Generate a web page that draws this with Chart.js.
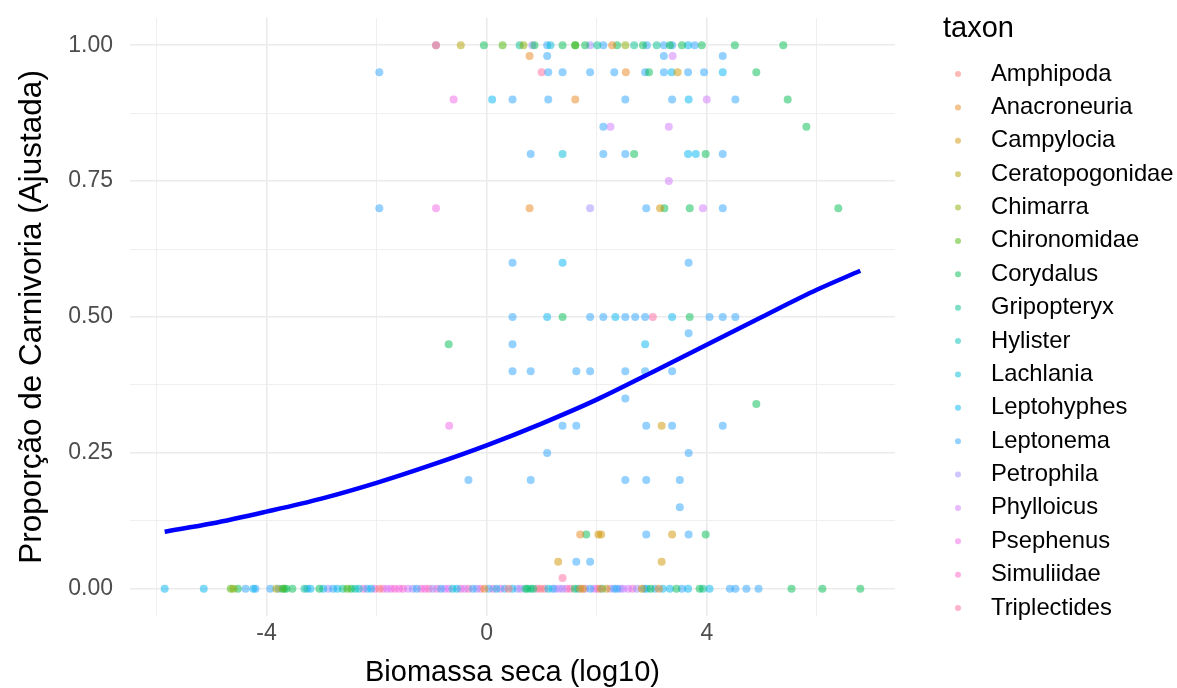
<!DOCTYPE html>
<html><head><meta charset="utf-8">
<script src="https://cdn.jsdelivr.net/npm/chart.js@4.4.1/dist/chart.umd.min.js"></script>
<style>html,body{margin:0;padding:0;background:#fff;}</style>
</head><body>
<canvas id="c" width="1177" height="688"></canvas>
<script>
// ---- data ----
const taxa = ['Amphipoda','Anacroneuria','Campylocia','Ceratopogonidae','Chimarra','Chironomidae','Corydalus','Gripopteryx','Hylister','Lachlania','Leptohyphes','Leptonema','Petrophila','Phylloicus','Psephenus','Simuliidae','Triplectides'];
const taxonColors = ['#F8766D','#E7851E','#D09400','#B2A100','#89AC00','#45B500','#00BC51','#00C08E','#00C0B8','#00BCD8','#00B3F2','#29A3FF','#9C8DFF','#D277FF','#F166E8','#FF61C7','#FF689E'];
const xTickLabels = ['-4','0','4'];
const yTickLabels = ['0.00','0.25','0.50','0.75','1.00'];

const amphipoda = [[-0.92,1.0],[-1.95,0],[0.40,0],[0.98,0]];
const anacroneuria = [[2.28,1.0],[0.78,0.98],[2.53,0.95],[1.61,0.9],[0.78,0.7],[1.70,0.1],[-0.04,0],[1.70,0],[2.06,0],[3.13,0]];
const campylocia = [[3.47,0.95],[3.15,0.7],[3.18,0.3],[2.03,0.1],[2.08,0.1],[3.37,0.1],[1.30,0.05],[3.18,0.05],[1.75,0],[2.18,0],[2.82,0]];
const ceratopogonidae = [[-0.47,1.0],[-3.82,0]];
const chimarra = [[0.67,1.0],[2.52,1.0],[-4.60,0]];
const chironomidae = [[0.29,1.0],[1.61,1.0],[-4.65,0],[-3.71,0],[-2.53,0]];
const corydalus = [[-0.05,1.0],[0.87,1.0],[1.38,1.0],[1.61,1.0],[1.79,1.0],[2.37,1.0],[2.84,1.0],[3.33,1.0],[3.55,1.0],[3.91,1.0],[4.51,1.0],[5.39,1.0],
  [2.95,0.95],[4.90,0.95],[5.47,0.9],[5.81,0.85],[2.68,0.8],[3.98,0.8],[3.23,0.7],[3.69,0.7],[6.39,0.7],[1.38,0.5],[3.69,0.5],[-0.69,0.45],[4.90,0.34],[1.81,0.1],[3.98,0.1],
  [-4.52,0],[-3.68,0],[-3.64,0],[-3.53,0],[-3.04,0],[-2.46,0],[0.74,0],[0.85,0],[1.60,0],[2.98,0],[3.45,0],[3.87,0],[5.54,0],[6.10,0],[6.79,0]];
const gripopteryx = [[0.60,1.0],[2.01,1.0],[2.68,1.0],[3.09,1.0],[-3.31,0],[-2.61,0],[0.70,0],[2.10,0],[3.93,0]];
const hylister = [[-2.39,0],[0.80,0]];
const lachlania = [[1.16,1.0],[1.38,0.8],[-2.32,0],[-0.62,0],[1.12,0]];
const leptohyphes = [[3.66,1.0],[3.36,0.95],[4.29,0.95],[0.10,0.9],[3.67,0.9],[3.66,0.8],[3.80,0.8],[1.38,0.6],[1.10,0.5],[2.34,0.5],[3.37,0.5],[2.88,0.45],
  [-5.85,0],[-5.14,0],[-4.24,0],[-3.20,0],[-2.97,0],[-2.71,0],[-2.10,0],[-0.54,0],[0.18,0],[0.47,0],[1.66,0],[2.91,0],[3.20,0],[3.33,0],[3.66,0],[4.05,0]];
const leptonema = [[1.10,1.0],[2.12,1.0],[2.91,1.0],[3.22,1.0],[3.37,1.0],[3.78,1.0],[1.10,0.98],[3.22,0.98],[4.29,0.98],
  [-1.95,0.95],[1.12,0.95],[1.38,0.95],[1.88,0.95],[2.32,0.95],[2.88,0.95],[3.22,0.95],[3.66,0.95],[3.95,0.95],
  [0.47,0.9],[1.12,0.9],[2.52,0.9],[3.37,0.9],[4.52,0.9],[2.12,0.85],[0.80,0.8],[2.12,0.8],[2.52,0.8],[4.29,0.8],
  [-1.95,0.7],[2.90,0.7],[4.29,0.7],[0.47,0.6],[3.67,0.6],
  [0.47,0.5],[1.88,0.5],[2.12,0.5],[2.52,0.5],[2.70,0.5],[2.88,0.5],[4.05,0.5],[4.29,0.5],[4.52,0.5],[3.67,0.47],[0.47,0.45],
  [0.47,0.4],[0.80,0.4],[1.63,0.4],[1.88,0.4],[2.52,0.4],[2.88,0.4],[3.37,0.4],[2.52,0.35],
  [1.38,0.3],[1.63,0.3],[2.90,0.3],[3.37,0.3],[4.29,0.3],[1.10,0.25],[3.67,0.25],
  [-0.33,0.2],[0.80,0.2],[2.52,0.2],[2.90,0.2],[3.51,0.2],[3.51,0.15],[2.90,0.1],[3.67,0.1],[1.63,0.05],[1.88,0.05],
  [-4.38,0],[-4.20,0],[-3.93,0],[-3.78,0],[-3.26,0],[-2.79,0],[-2.17,0],[-1.27,0],[-0.83,0],[-0.25,0],[0.04,0],[0.33,0],[1.20,0],[1.88,0],[2.32,0],[2.37,0],[2.86,0],[3.06,0],[3.55,0],[4.42,0],[4.52,0],[4.72,0],[4.94,0]];
const petrophila = [[-0.92,1.0],[0.83,1.0],[1.88,1.0],[1.88,0.7],[-2.88,0],[-1.34,0],[-0.98,0],[-0.18,0],[0.56,0],[1.25,0],[1.38,0],[2.43,0],[2.73,0]];
const phylloicus = [[3.38,0.98],[4.00,0.9],[2.25,0.85],[3.31,0.85],[3.31,0.75],[3.93,0.7],[-1.81,0],[-1.43,0],[-0.76,0],[-0.40,0],[0.62,0],[1.32,0],[1.79,0],[1.95,0],[2.25,0],[2.48,0],[2.57,0]];
const psephenus = [[-0.60,0.9],[-0.92,0.7],[-0.68,0.3],[-2.03,0],[-1.74,0],[-1.59,0],[-1.12,0],[-0.69,0],[0.25,0]];
const simuliidae = [[-2.24,0],[-1.88,0],[-1.67,0],[-1.52,0],[-1.19,0],[-0.90,0],[-0.47,0],[-0.11,0],[0.12,0],[0.92,0],[1.45,0],[2.01,0],[2.65,0]];
const triplectides = [[1.00,0.95],[3.02,0.5],[1.38,0.02],[-1.05,0],[-0.33,0],[1.05,0],[1.52,0]];

const pointsByTaxon = [amphipoda,anacroneuria,campylocia,ceratopogonidae,chimarra,chironomidae,corydalus,gripopteryx,hylister,lachlania,leptohyphes,leptonema,petrophila,phylloicus,psephenus,simuliidae,triplectides];

// fitted curve
const fitX = [-5.85,-5,-4,-3,-2,-1,0,1,2,3,4,5,6,6.79];
const fitY = [0.105,0.12,0.142,0.166,0.195,0.228,0.264,0.304,0.348,0.398,0.449,0.50,0.55,0.585];

// ---- chart ----
const FONT = '"Liberation Sans", Arial, sans-serif';
Chart.defaults.font.family = FONT;

function rgba(hex, a){
  const n = parseInt(hex.slice(1),16);
  return `rgba(${(n>>16)&255},${(n>>8)&255},${n&255},${a})`;
}

const datasets = taxa.map((name,i)=>({
  type:'scatter', label:name,
  data: pointsByTaxon[i].map(p=>({x:p[0], y:p[1]})),
  backgroundColor: rgba(taxonColors[i],0.5),
  borderWidth:0, pointRadius:4, pointHoverRadius:4, order:1
}));
datasets.push({
  type:'line', label:'fit',
  data: fitX.map((x,i)=>({x, y:fitY[i]})),
  borderColor:'#0000FF', borderWidth:4.5, pointRadius:0, fill:false,
  cubicInterpolationMode:'monotone', order:0
});

const taxonLegend = {
  id:'taxonLegend',
  afterDraw(chart){
    const ctx = chart.ctx;
    ctx.save();
    ctx.textAlign='left'; ctx.textBaseline='middle';
    ctx.fillStyle='#000';
    ctx.font = '29px ' + FONT;
    ctx.fillText('taxon', 943, 29);
    ctx.font = '23.8px ' + FONT;
    taxa.forEach((name,i)=>{
      const y = 74 + i*33.375;
      ctx.fillStyle = rgba(taxonColors[i],0.5);
      ctx.beginPath(); ctx.arc(958, y, 3, 0, Math.PI*2); ctx.fill();
      ctx.fillStyle = '#000';
      ctx.fillText(name, 991, y);
    });
    ctx.restore();
  }
};

const isMajorX = v => Math.round(v) % 4 === 0;
const isMajorY = v => Math.round(v*8) % 2 === 0;

new Chart(document.getElementById('c'), {
  type:'scatter',
  data:{datasets},
  options:{
    responsive:false, animation:false, devicePixelRatio:1,
    layout:{padding:{left:0,right:282,top:18,bottom:0}},
    plugins:{legend:{display:false}, tooltip:{enabled:false}},
    scales:{
      x:{
        type:'linear', position:'bottom', min:-6.48, max:7.42,
        afterFit(s){ s.height = 72; },
        border:{display:false},
        grid:{color:'#EBEBEB', drawTicks:true, tickLength:4, tickColor:'rgba(0,0,0,0)', lineWidth: c => isMajorX(c.tick.value) ? 1.6 : 0.8},
        ticks:{stepSize:2, includeBounds:false, autoSkip:false, maxRotation:0, padding:0, color:'#4D4D4D',
          font:{size:23},
          callback: v => { const k = xTickLabels.indexOf(String(Math.round(v))); return k>=0 ? xTickLabels[k] : ''; }},
        title:{display:true, text:'Biomassa seca (log10)', color:'#000', font:{size:29, lineHeight:1}, padding:{top:0,bottom:1}}
      },
      y:{
        type:'linear', position:'left', min:-0.05, max:1.05,
        afterFit(s){ s.width = 130; },
        border:{display:false},
        grid:{color:'#EBEBEB', drawTicks:true, tickLength:17, tickColor:'rgba(0,0,0,0)', lineWidth: c => isMajorY(c.tick.value) ? 1.6 : 0.8},
        ticks:{stepSize:0.125, includeBounds:false, autoSkip:false, padding:0, color:'#4D4D4D',
          font:{size:23},
          callback: v => { const k = Math.round(v*8); return k%2===0 ? yTickLabels[k/2] : ''; }},
        title:{display:true, text:'Proporção de Carnivoria (Ajustada)', color:'#000', font:{size:31.5, lineHeight:1}, padding:{top:17,bottom:0}}
      }
    }
  },
  plugins:[taxonLegend]
});
</script>
</body></html>
